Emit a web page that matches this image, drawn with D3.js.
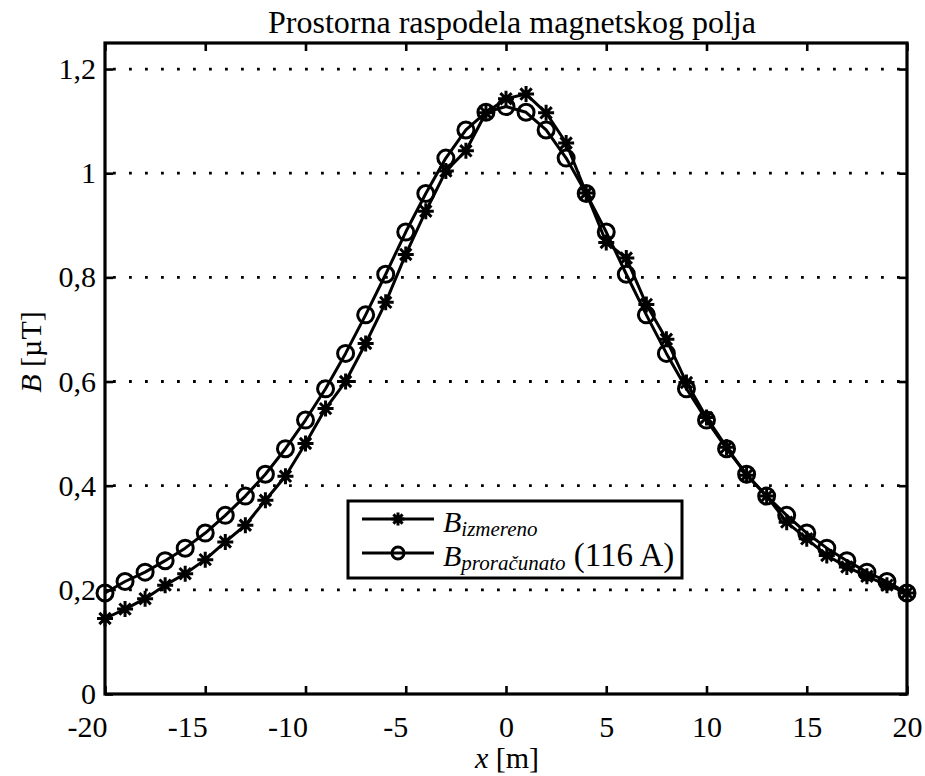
<!DOCTYPE html>
<html>
<head>
<meta charset="utf-8">
<script src="https://cdn.jsdelivr.net/npm/d3@7"></script>
<style>
  html, body { margin: 0; padding: 0; background: #fff; }
  svg { display: block; }
  text { font-family: "Liberation Serif", "Times New Roman", serif; fill: #000; }
</style>
</head>
<body>
<svg id="chart" width="925" height="776"></svg>
<script>
// Position along the line [m]
const xPositions = d3.range(-20, 21, 1);

// Measured field B [µT]
const measured = [
  0.145, 0.163, 0.183, 0.209, 0.231, 0.258, 0.292, 0.324, 0.372, 0.418,
  0.481, 0.548, 0.600, 0.673, 0.752, 0.844, 0.927, 1.004, 1.043, 1.116,
  1.143, 1.152, 1.116, 1.058, 0.962, 0.867, 0.837, 0.748, 0.681, 0.598,
  0.531, 0.474, 0.420, 0.380, 0.330, 0.298, 0.266, 0.244, 0.226, 0.209,
  0.194
];

// Calculated field B [µT] for 116 A
const calculated = [
  0.194, 0.216, 0.234, 0.256, 0.280, 0.309, 0.343, 0.380, 0.422, 0.471,
  0.526, 0.586, 0.654, 0.728, 0.806, 0.887, 0.961, 1.029, 1.083, 1.117,
  1.128, 1.117, 1.083, 1.029, 0.961, 0.887, 0.806, 0.728, 0.654, 0.586,
  0.526, 0.471, 0.422, 0.380, 0.343, 0.309, 0.280, 0.256, 0.234, 0.216,
  0.194
];

const xTicks = [-20, -15, -10, -5, 0, 5, 10, 15, 20];
const yTicks = [0, 0.2, 0.4, 0.6, 0.8, 1.0, 1.2];

const svg = d3.select("#chart");
const plotLeft = 105, plotRight = 907, plotTop = 43, plotBottom = 694;

const x = d3.scaleLinear().domain([-20, 20]).range([plotLeft, plotRight]);
const y = d3.scaleLinear().domain([0, 1.25]).range([plotBottom, plotTop]);

const fmtX = v => String(v);
const fmtY = v => (v === 0 ? "0" : (v === 1 ? "1" : d3.format(".1f")(v).replace(".", ",")));

// Horizontal dotted grid
svg.append("g")
  .selectAll("line")
  .data(yTicks.filter(v => v > 0))
  .join("line")
  .attr("x1", plotLeft + 8).attr("x2", plotRight)
  .attr("y1", d => y(d)).attr("y2", d => y(d))
  .attr("stroke", "#000")
  .attr("stroke-width", 2.8)
  .attr("stroke-dasharray", "2.8,13.2");

// Axes with inward ticks on all four sides
const tickLen = 8;
const bottomAxis = d3.axisBottom(x).tickValues(xTicks).tickSize(-tickLen).tickPadding(22).tickFormat(fmtX);
const topAxis = d3.axisTop(x).tickValues(xTicks).tickSize(-tickLen).tickFormat("");
const leftAxis = d3.axisLeft(y).tickValues(yTicks).tickSize(-tickLen).tickPadding(9).tickFormat(fmtY);
const rightAxis = d3.axisRight(y).tickValues(yTicks).tickSize(-tickLen).tickFormat("");

function styleAxis(g) {
  g.select(".domain").remove();
  g.selectAll(".tick line").attr("stroke", "#000").attr("stroke-width", 2.6);
  g.selectAll(".tick text").attr("font-size", 30).attr("fill", "#000")
    .style("font-family", '"Liberation Serif", "Times New Roman", serif');
}

const gx = svg.append("g").attr("transform", `translate(0,${plotBottom})`).call(bottomAxis).call(styleAxis);
// negative labels sit flush to the left of their tick
gx.selectAll(".tick text")
  .filter(d => d < 0)
  .attr("text-anchor", "end")
  .attr("x", 2);
svg.append("g").attr("transform", `translate(0,${plotTop})`).call(topAxis).call(styleAxis);
svg.append("g").attr("transform", `translate(${plotLeft},0)`).call(leftAxis).call(styleAxis);
svg.append("g").attr("transform", `translate(${plotRight},0)`).call(rightAxis).call(styleAxis);

// Plot frame
svg.append("rect")
  .attr("x", plotLeft).attr("y", plotTop)
  .attr("width", plotRight - plotLeft).attr("height", plotBottom - plotTop)
  .attr("fill", "none").attr("stroke", "#000").attr("stroke-width", 3.2);

const line = d3.line().x(d => x(d[0])).y(d => y(d[1]));
const measuredPts = xPositions.map((v, i) => [v, measured[i]]);
const calculatedPts = xPositions.map((v, i) => [v, calculated[i]]);

// Asterisk marker path (plus and cross combined)
function asterisk(r) {
  const d = r * Math.SQRT1_2;
  return `M${-r},0L${r},0M0,${-r}L0,${r}M${-d},${-d}L${d},${d}M${-d},${d}L${d},${-d}`;
}

const lw = 3;

// Measured series
svg.append("path").datum(measuredPts)
  .attr("d", line).attr("fill", "none")
  .attr("stroke", "#000").attr("stroke-width", lw).attr("stroke-linejoin", "round");
svg.append("g").selectAll("path")
  .data(measuredPts).join("path")
  .attr("transform", d => `translate(${x(d[0])},${y(d[1])})`)
  .attr("d", asterisk(8))
  .attr("stroke", "#000").attr("stroke-width", lw).attr("fill", "none");

// Calculated series
svg.append("path").datum(calculatedPts)
  .attr("d", line).attr("fill", "none")
  .attr("stroke", "#000").attr("stroke-width", lw).attr("stroke-linejoin", "round");
svg.append("g").selectAll("circle")
  .data(calculatedPts).join("circle")
  .attr("cx", d => x(d[0])).attr("cy", d => y(d[1])).attr("r", 8)
  .attr("fill", "none").attr("stroke", "#000").attr("stroke-width", lw);

// Title and axis labels
svg.append("text")
  .attr("x", 512).attr("y", 33)
  .attr("text-anchor", "middle").attr("font-size", 32)
  .text("Prostorna raspodela magnetskog polja");

const xl = svg.append("text")
  .attr("x", 507).attr("y", 768)
  .attr("text-anchor", "middle").attr("font-size", 30);
xl.append("tspan").attr("font-style", "italic").text("x");
xl.append("tspan").text(" [m]");

const yl = svg.append("text")
  .attr("transform", "translate(41,352) rotate(-90)")
  .attr("text-anchor", "middle").attr("font-size", 30);
yl.append("tspan").attr("font-style", "italic").text("B");
yl.append("tspan").text(" [\u00B5T]");

// Legend
const lg = svg.append("g");
lg.append("rect")
  .attr("x", 348).attr("y", 501).attr("width", 334).attr("height", 77)
  .attr("fill", "#fff").attr("stroke", "#000").attr("stroke-width", 3);

const rows = [
  { y: 519, marker: "star", sub: "izmereno", extra: "" },
  { y: 553, marker: "circle", sub: "prora\u010Dunato", extra: " (116 A)" }
];
rows.forEach(r => {
  lg.append("line")
    .attr("x1", 362).attr("x2", 434).attr("y1", r.y).attr("y2", r.y)
    .attr("stroke", "#000").attr("stroke-width", lw);
  if (r.marker === "star") {
    lg.append("path").attr("transform", `translate(398,${r.y})`)
      .attr("d", asterisk(6.5)).attr("stroke", "#000").attr("stroke-width", lw).attr("fill", "none");
  } else {
    lg.append("circle").attr("cx", 398).attr("cy", r.y).attr("r", 6)
      .attr("fill", "none").attr("stroke", "#000").attr("stroke-width", lw);
  }
  const t = lg.append("text").attr("x", 443).attr("y", r.y + 13).attr("font-size", 30);
  t.append("tspan").attr("font-style", "italic").text("B");
  t.append("tspan").attr("font-style", "italic").attr("font-size", 21).attr("dy", 4).text(r.sub);
  if (r.extra) t.append("tspan").attr("dy", -4).attr("font-size", 33).text(r.extra);
});
</script>
</body>
</html>
